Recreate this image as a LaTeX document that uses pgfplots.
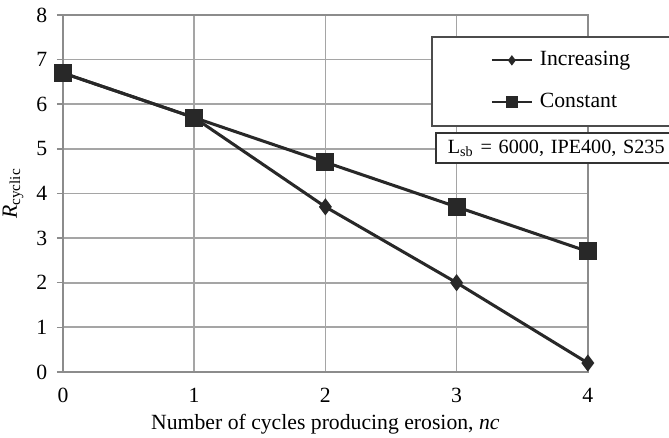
\documentclass[border=0pt]{standalone}
\usepackage{pgfplots}
\pgfplotsset{compat=1.18}
\usepackage{fontspec}
\setmainfont{Liberation Serif}
\definecolor{gridc}{RGB}{165,165,165}
\definecolor{axc}{RGB}{140,140,140}
\definecolor{linec}{RGB}{40,40,40}
\pgfplotsset{
  myleg/.style={legend image code/.code={\draw[mark repeat=2, mark phase=2, ##1, line width=1pt, mark size=#1] plot coordinates {(0pt,0pt)(9.2pt,0pt)(18.4pt,0pt)};}}
}
\begin{document}
\begin{tikzpicture}
\useasboundingbox (-29.0pt,-30.4pt) rectangle (279.3pt,171.4pt);
\begin{axis}[
  at={(0pt,0pt)}, anchor=south west,
  scale only axis, width=241.9pt, height=164.5pt,
  xmin=0, xmax=4, ymin=0, ymax=8,
  xtick={0,1,2,3,4}, ytick={0,1,2,3,4,5,6,7,8},
  grid=major, major grid style={draw=gridc, line width=0.8pt},
  axis line style={draw=axc, line width=0.8pt},
  tick style={draw=axc, line width=0.7pt},
  tick align=outside, xtick pos=bottom, ytick pos=left,
  major tick length=2.8pt,
  xtick style={draw=none},
  /pgf/number format/assume math mode=true,
  xticklabel style={anchor=base, yshift=-11.5pt, inner sep=0pt},
  yticklabel style={anchor=east, inner sep=0pt, xshift=-4.2pt},
  xlabel={Number of cycles producing erosion, \textit{nc}},
  xlabel style={at={(rel axis cs:0.5,0)}, anchor=base, yshift=-26.7pt, inner sep=0pt},
  ylabel={\textit{R}\textsubscript{cyclic}},
  ylabel style={at={([xshift=-23pt]rel axis cs:0,0.5)}, anchor=center, inner sep=0pt},
  clip=false,
  legend style={at={(rel axis cs:0.7011,0.9410)}, anchor=north west,
    draw=black!70, line width=0.8pt, fill=white,
    inner xsep=27.2pt, inner ysep=6.3pt, row sep=10.3pt, column sep=3.2pt,
    nodes={inner sep=0pt, text height=7pt, text depth=2pt}},
  legend cell align=left,
]
\addplot[color=linec, line width=1.4pt, mark=diamond*, mark size=2.8pt,
  mark options={solid, fill=linec}, myleg=1.6pt]
  coordinates {(0,6.7)(1,5.7)(2,3.7)(3,2.0)(4,0.2)};
\addlegendentry{Increasing}
\addplot[color=linec, line width=1.4pt, mark=square*, mark size=3.45pt,
  mark options={solid, fill=linec}, myleg=2.2pt]
  coordinates {(0,6.7)(1,5.7)(2,4.7)(3,3.7)(4,2.7)};
\addlegendentry{Constant}
\node[draw=black!80, line width=0.8pt, fill=white, anchor=north west,
  inner xsep=5.6pt, inner ysep=0pt, text height=9.5pt, text depth=4.3pt,
  text width=110pt, align=left, font=\fontsize{9.3pt}{11pt}\selectfont] at (rel axis cs:0.7086,0.6723)
  {L\textsubscript{sb} = 6000, IPE400, S235};
\end{axis}
\end{tikzpicture}
\end{document}
